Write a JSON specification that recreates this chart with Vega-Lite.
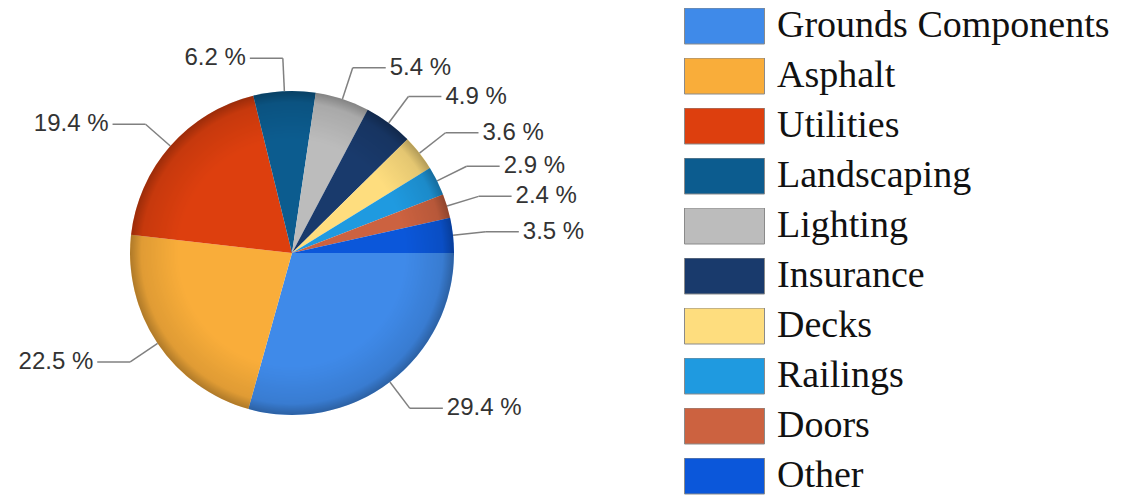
{
  "$schema": "https://vega.github.io/schema/vega-lite/v6.json",
  "width": 584,
  "height": 488,
  "autosize": {"type": "none"},
  "padding": {"left": 0, "top": 9, "right": 553, "bottom": 0},
  "background": "white",
  "config": {"view": {"stroke": null}},
  "data": {
    "values": [
      {"category": "Grounds Components", "value": 29.4, "order": 1},
      {"category": "Asphalt", "value": 22.5, "order": 2},
      {"category": "Utilities", "value": 19.4, "order": 3},
      {"category": "Landscaping", "value": 6.2, "order": 4},
      {"category": "Lighting", "value": 5.4, "order": 5},
      {"category": "Insurance", "value": 4.9, "order": 6},
      {"category": "Decks", "value": 3.6, "order": 7},
      {"category": "Railings", "value": 2.9, "order": 8},
      {"category": "Doors", "value": 2.4, "order": 9},
      {"category": "Other", "value": 3.5, "order": 10}
    ]
  },
  "layer": [
    {
      "mark": {"type": "arc", "radius": 162},
      "encoding": {
        "theta": {"field": "value", "type": "quantitative", "stack": true, "scale": {"range": [1.5708, 7.854]}},
        "order": {"field": "order", "type": "quantitative"},
        "color": {
          "field": "category",
          "type": "nominal",
          "sort": null,
          "scale": {
            "domain": ["Grounds Components", "Asphalt", "Utilities", "Landscaping", "Lighting", "Insurance", "Decks", "Railings", "Doors", "Other"],
            "range": ["#3F8AE9", "#F9AD3A", "#DD3F0E", "#0C5C8F", "#BCBCBC", "#193A6C", "#FEDD7E", "#1F9AE0", "#CC6240", "#0B57DA"]
          },
          "legend": {
            "title": null,
            "orient": "none",
            "legendX": 684,
            "legendY": -1,
            "padding": 0,
            "symbolType": "M-1,-0.45H1V0.45H-1Z",
            "symbolSize": 6400,
            "symbolStrokeColor": "#8a8a8a",
            "symbolStrokeWidth": 1,
            "symbolOpacity": 1,
            "clipHeight": 36,
            "rowPadding": 12,
            "labelFont": "Liberation Serif",
            "labelFontSize": 38,
            "labelColor": "#111111",
            "labelOffset": 12,
            "labelLimit": 0
          }
        }
      }
    },
    {
      "data": {"values": [{"k": 1}]},
      "mark": {
        "type": "arc",
        "theta": 0,
        "theta2": 6.2832,
        "radius": 162,
        "fill": {
          "gradient": "radial",
          "x1": 0.5, "y1": 0.5, "r1": 0,
          "x2": 0.5, "y2": 0.5, "r2": 0.5,
          "stops": [
            {"offset": 0, "color": "rgba(255,255,255,0)"},
            {"offset": 0.7, "color": "rgba(0,0,0,0)"},
            {"offset": 0.93, "color": "rgba(0,0,0,0.1)"},
            {"offset": 1, "color": "rgba(0,0,0,0.3)"}
          ]
        }
      },
      "encoding": {}
    },
    {
      "transform": [
        {"joinaggregate": [{"op": "sum", "field": "value", "as": "total"}]},
        {"window": [{"op": "sum", "field": "value", "as": "cum"}], "sort": [{"field": "order"}]},
        {"calculate": "PI/2 + 2*PI*(datum.cum - datum.value/2)/datum.total", "as": "a"},
        {"calculate": "sin(datum.a) >= 0 ? 1 : -1", "as": "side"},
        {"calculate": "162*sin(datum.a)", "as": "x0"},
        {"calculate": "162*cos(datum.a)", "as": "y0"},
        {"calculate": "195*sin(datum.a)", "as": "xe"},
        {"calculate": "195*cos(datum.a)", "as": "ye"},
        {"calculate": "datum.xe + datum.side*33", "as": "xh"},
        {"calculate": "datum.xe + datum.side*37", "as": "xt"},
        {"calculate": "format(datum.value, '.1f') + ' %'", "as": "label"}
      ],
      "layer": [
        {
          "mark": {"type": "rule", "color": "#808080", "strokeWidth": 1.5},
          "encoding": {
            "x": {"field": "x0", "type": "quantitative", "scale": {"domain": [-292, 292], "nice": false, "zero": false}, "axis": null},
            "y": {"field": "y0", "type": "quantitative", "scale": {"domain": [-244, 244], "nice": false, "zero": false}, "axis": null},
            "x2": {"field": "xe"},
            "y2": {"field": "ye"}
          }
        },
        {
          "mark": {"type": "rule", "color": "#808080", "strokeWidth": 1.5},
          "encoding": {
            "x": {"field": "xe", "type": "quantitative"},
            "y": {"field": "ye", "type": "quantitative"},
            "x2": {"field": "xh"}
          }
        },
        {
          "transform": [{"filter": "datum.side > 0"}],
          "mark": {"type": "text", "align": "left", "baseline": "middle", "font": "Liberation Sans", "fontSize": 24, "color": "#333333"},
          "encoding": {
            "x": {"field": "xt", "type": "quantitative"},
            "y": {"field": "ye", "type": "quantitative"},
            "text": {"field": "label"}
          }
        },
        {
          "transform": [{"filter": "datum.side < 0"}],
          "mark": {"type": "text", "align": "right", "baseline": "middle", "font": "Liberation Sans", "fontSize": 24, "color": "#333333"},
          "encoding": {
            "x": {"field": "xt", "type": "quantitative"},
            "y": {"field": "ye", "type": "quantitative"},
            "text": {"field": "label"}
          }
        }
      ]
    }
  ]
}
